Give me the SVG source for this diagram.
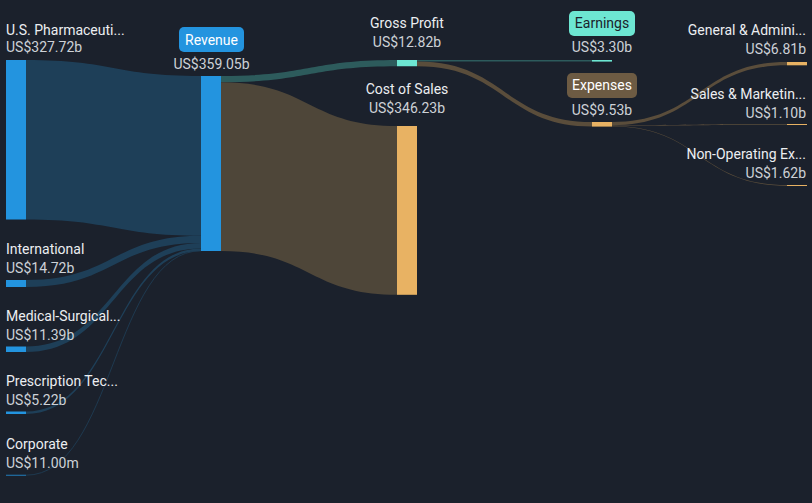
<svg xmlns="http://www.w3.org/2000/svg" width="812" height="503" viewBox="0 0 812 503">
<style>
text{font-family:Roboto,"Liberation Sans",sans-serif;font-size:14px}
.n{fill:#eceef1}
.v{fill:#cdd1d7}
.m{text-anchor:middle}
.e{text-anchor:end}
.blue{fill:#2394df}
.teal{fill:#6de6d2}
.gold{fill:#e8b263}
.lb{fill:#1e3f58}
.lt{fill:#2d5b5c}
.lc{fill:#4e4639}
.le{fill:#5a4d3b}
</style>
<rect width="812" height="503" fill="#1b212c"/>
<g id="connectors">
<path class="lb" d="M26 60 C113.5 60 113.5 76 201 76 L201 235.7 C113.5 235.7 113.5 219.5 26 219.5 Z"/>
<path class="lb" d="M26 280 C113.5 280 113.5 235.7 201 235.7 L201 242.9 C113.5 242.9 113.5 287 26 287 Z"/>
<path class="lb" d="M26 346.5 C113.5 346.5 113.5 242.9 201 242.9 L201 248.4 C113.5 248.4 113.5 352 26 352 Z"/>
<path class="lb" d="M26 411.5 C113.5 411.5 113.5 248.4 201 248.4 L201 251 C113.5 251 113.5 414 26 414 Z"/>
<path d="M26 475.2 C113.5 475.2 113.5 250.8 201 250.8" fill="none" stroke="#1e3f58" stroke-width="0.8"/>
<path class="lt" d="M221 76 C309 76 309 60 397 60 L397 66.25 C309 66.25 309 82.2 221 82.2 Z"/>
<path class="lc" d="M221 82.2 C309 82.2 309 126 397 126 L397 294.8 C309 294.8 309 251 221 251 Z"/>
<path class="lt" d="M417 60 C504.5 60 504.5 60 592 60 L592 61.6 C504.5 61.6 504.5 61.6 417 61.6 Z"/>
<path class="le" d="M417 61.6 C504.5 61.6 504.5 122 592 122 L592 126.6 C504.5 126.6 504.5 66.25 417 66.25 Z"/>
<path class="le" d="M612 122 C699.5 122 699.5 62 787 62 L787 65.3 C699.5 65.3 699.5 125.3 612 125.3 Z"/>
<path class="le" d="M612 125.3 C699.5 125.3 699.5 124 787 124 L787 124.8 C699.5 124.8 699.5 125.9 612 125.9 Z"/>
<path class="le" d="M612 125.9 C699.5 125.9 699.5 185 787 185 L787 185.9 C699.5 185.9 699.5 126.6 612 126.6 Z"/>
</g>
<g id="us-pharmaceutical">
<rect class="blue" x="6" y="60" width="20" height="159.5"/>
<text class="n" x="6" y="35">U.S. Pharmaceuti...</text>
<text class="v" x="6" y="52">US$327.72b</text>
</g>
<g id="international">
<rect class="blue" x="6" y="280" width="20" height="7"/>
<text class="n" x="6" y="254">International</text>
<text class="v" x="6" y="273">US$14.72b</text>
</g>
<g id="medical-surgical">
<rect class="blue" x="6" y="346.5" width="20" height="5.5"/>
<text class="n" x="6" y="321">Medical-Surgical...</text>
<text class="v" x="6" y="340">US$11.39b</text>
</g>
<g id="prescription-tech">
<rect class="blue" x="6" y="411.5" width="20" height="2.5"/>
<text class="n" x="6" y="386">Prescription Tec...</text>
<text class="v" x="6" y="405">US$5.22b</text>
</g>
<g id="corporate">
<rect class="blue" x="6" y="474.8" width="20" height="0.8"/>
<text class="n" x="6" y="449">Corporate</text>
<text class="v" x="6" y="468">US$11.00m</text>
</g>
<g id="revenue">
<rect class="blue" x="201" y="76" width="20" height="175"/>
<rect class="blue" x="179" y="27" width="65" height="25" rx="5"/>
<text class="m" x="211.5" y="45" fill="#ffffff">Revenue</text>
<text class="v m" x="211.5" y="69">US$359.05b</text>
</g>
<g id="gross-profit">
<rect class="teal" x="397" y="60" width="20" height="6.25"/>
<text class="n m" x="407" y="28">Gross Profit</text>
<text class="v m" x="407" y="47">US$12.82b</text>
</g>
<g id="cost-of-sales">
<rect class="gold" x="397" y="126" width="20" height="168.8"/>
<text class="n m" x="407" y="94">Cost of Sales</text>
<text class="v m" x="407" y="113">US$346.23b</text>
</g>
<g id="earnings">
<rect class="teal" x="592" y="60" width="20" height="1.6"/>
<rect class="teal" x="569" y="11" width="66" height="25" rx="5"/>
<text class="m" x="602" y="28" fill="#1b212c">Earnings</text>
<text class="v m" x="602" y="52">US$3.30b</text>
</g>
<g id="expenses">
<rect class="gold" x="592" y="122" width="20" height="4.6"/>
<rect x="567" y="73" width="70" height="25" rx="5" fill="#6d5b43"/>
<text class="m" x="602" y="90" fill="#ffffff">Expenses</text>
<text class="v m" x="602" y="115">US$9.53b</text>
</g>
<g id="general-admin">
<rect class="gold" x="787" y="62" width="20" height="3.3"/>
<text class="n e" x="806" y="35">General &amp; Admini...</text>
<text class="v e" x="806" y="54">US$6.81b</text>
</g>
<g id="sales-marketing">
<rect class="gold" x="787" y="124" width="20" height="1"/>
<text class="n e" x="806" y="99">Sales &amp; Marketin...</text>
<text class="v e" x="806" y="118">US$1.10b</text>
</g>
<g id="non-operating">
<rect class="gold" x="787" y="185" width="20" height="1"/>
<text class="n e" x="806" y="159">Non-Operating Ex...</text>
<text class="v e" x="806" y="178">US$1.62b</text>
</g>
</svg>
